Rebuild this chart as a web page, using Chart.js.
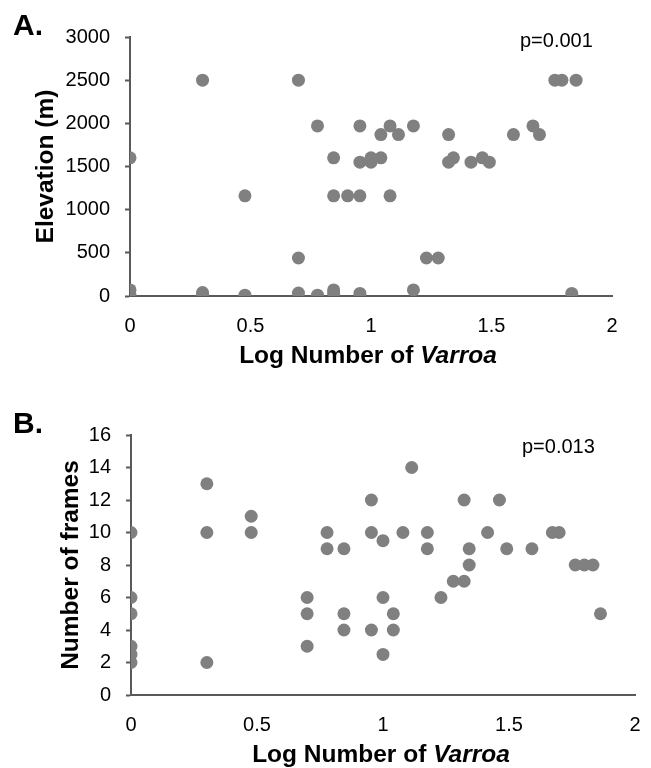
<!DOCTYPE html>
<html>
<head>
<meta charset="utf-8">
<script src="https://cdn.jsdelivr.net/npm/chart.js@4/dist/chart.umd.min.js"></script>
<style>
  body { margin: 0; background: #fff; font-family: "Liberation Sans", Arial, sans-serif; }
  #wrap { position: relative; width: 651px; height: 768px; overflow: hidden; }
  #wrap canvas { position: absolute; left: 0; }
  .lbl { position: absolute; color: #000; white-space: nowrap; line-height: 1; }
  .panel { font-size: 30px; font-weight: bold; }
  .pval { font-size: 20px; }
  .xt { font-size: 24.5px; font-weight: bold; text-align: center; width: 400px; }
</style>
</head>
<body>
<div id="wrap">
  <canvas id="elevChart" width="651" height="385" style="top:0"></canvas>
  <canvas id="framesChart" width="651" height="383" style="top:385px"></canvas>
  <div class="lbl panel" style="left:13px; top:10px">A.</div>
  <div class="lbl panel" style="left:13px; top:408px">B.</div>
  <div class="lbl pval" style="left:520px; top:30px">p=0.001</div>
  <div class="lbl pval" style="left:522px; top:436px">p=0.013</div>
  <div class="lbl xt" style="left:168px; top:343px">Log Number of <i>Varroa</i></div>
  <div class="lbl xt" style="left:181px; top:742px">Log Number of <i>Varroa</i></div>
</div>
<script>
// panel A: log varroa vs elevation
var varroaA = [0, 0, 0, 0.301, 0.301, 0.301, 0.477, 0.477, 0.699, 0.699, 0.699, 0.778, 0.778,
    0.845, 0.845, 0.845, 0.845, 0.903, 0.954, 0.954, 0.954, 0.954, 1.0, 1.0, 1.041, 1.041,
    1.079, 1.079, 1.114, 1.176, 1.176, 1.23, 1.279, 1.322, 1.322, 1.342, 1.415, 1.462, 1.491,
    1.591, 1.672, 1.699, 1.763, 1.792, 1.851, 1.833];
var elevation = [1600, 70, 15, 2500, 40, 20, 1160, 10, 2500, 440, 35, 1970, 10,
    1600, 1160, 70, 30, 1160, 1970, 1550, 1160, 30, 1600, 1550, 1600, 1870,
    1970, 1160, 1870, 1970, 70, 440, 440, 1870, 1550, 1600, 1550, 1600, 1550,
    1870, 1970, 1870, 2500, 2500, 2500, 30];

// panel B: log varroa vs number of frames
var varroaB = [0, 0, 0, 0, 0, 0, 0.301, 0.301, 0.301, 0.477, 0.477, 0.699, 0.699, 0.699,
    0.778, 0.778, 0.845, 0.845, 0.845, 0.954, 0.954, 0.954, 1.0, 1.0, 1.0, 1.041, 1.041,
    1.079, 1.114, 1.176, 1.176, 1.23, 1.279, 1.322, 1.322, 1.342, 1.342, 1.415, 1.462,
    1.491, 1.591, 1.672, 1.699, 1.763, 1.799, 1.833, 1.863];
var frames = [10, 6, 5, 3, 2.5, 2, 13, 10, 2, 11, 10, 6, 5, 3,
    10, 9, 9, 5, 4, 12, 10, 4, 9.5, 6, 2.5, 5, 4,
    10, 14, 10, 9, 6, 7, 7, 12, 9, 8, 10, 12,
    9, 9, 10, 10, 8, 8, 8, 5];

var xTicks = [0, 0.5, 1, 1.5, 2];

Chart.defaults.font.family = '"Liberation Sans", Arial, sans-serif';
Chart.defaults.color = '#000';

var axisColor = '#595959';
var dotColor = '#808080';

function pairs(xs, ys) {
    return xs.map(function (x, i) { return { x: x, y: ys[i] }; });
}

function plain(v) {
    return String(v);
}

function makeChart(id, points, yMax, yStep, yTitle, opts) {
    var ctx = document.getElementById(id).getContext('2d');
    return new Chart(ctx, {
        type: 'scatter',
        data: {
            datasets: [{
                data: points,
                backgroundColor: dotColor,
                borderWidth: 0,
                pointRadius: 6.5,
                pointHoverRadius: 6.5
            }]
        },
        options: {
            responsive: false,
            animation: false,
            events: [],
            layout: { padding: { top: opts.top, right: opts.right, bottom: 0, left: 0 } },
            plugins: { legend: { display: false }, tooltip: { enabled: false } },
            scales: {
                x: {
                    type: 'linear',
                    min: 0, max: 2,
                    afterBuildTicks: function (s) { s.ticks = xTicks.map(function (v) { return { value: v }; }); },
                    afterFit: function (s) { s.height = opts.xh; },
                    // invisible tick marks push the labels down without widening the side padding
                    grid: { display: true, drawOnChartArea: false, drawTicks: true, tickLength: 18, tickColor: 'rgba(0,0,0,0)' },
                    border: { display: true, color: axisColor, width: 2 },
                    ticks: { font: { size: 20 }, padding: 0, maxRotation: 0, callback: plain }
                },
                y: {
                    min: 0, max: yMax,
                    afterFit: function (s) { s.width = opts.yw; },
                    grid: { display: true, drawOnChartArea: false, drawTicks: true, tickLength: 5, tickColor: axisColor, tickWidth: 2 },
                    border: { display: true, color: axisColor, width: 2 },
                    ticks: { stepSize: yStep, font: { size: 20 }, padding: 15, callback: plain },
                    title: {
                        display: true,
                        text: yTitle,
                        font: { size: 24.5, weight: 'bold', lineHeight: 1 },
                        padding: { top: opts.tp, bottom: 0 }
                    }
                }
            }
        }
    });
}

var elevChart = makeChart('elevChart', pairs(varroaA, elevation), 3000, 500, 'Elevation (m)',
    { top: 37, right: 39, xh: 89, yw: 130, tp: 33.5 });
var framesChart = makeChart('framesChart', pairs(varroaB, frames), 16, 2, 'Number of frames',
    { top: 50, right: 16, xh: 73, yw: 131, tp: 59 });
</script>
</body>
</html>
